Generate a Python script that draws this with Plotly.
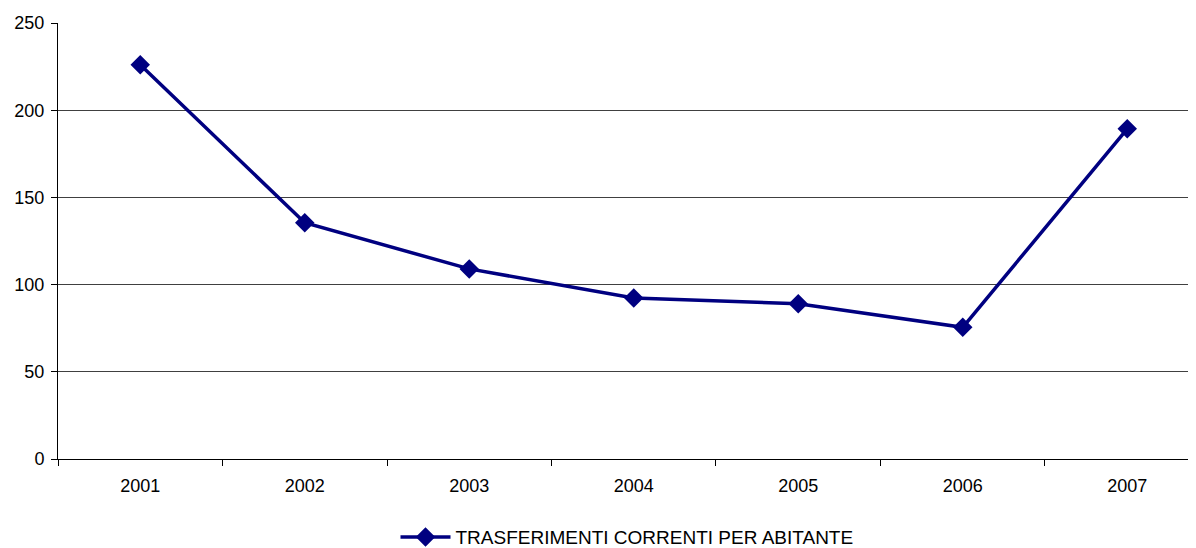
import plotly.graph_objects as go

years = ["2001", "2002", "2003", "2004", "2005", "2006", "2007"]
values = [226, 135.5, 109, 92.3, 89, 75.5, 189.3]
series_name = "TRASFERIMENTI CORRENTI PER ABITANTE"

fig = go.Figure()
fig.add_trace(go.Scatter(
    x=years, y=values, mode="lines+markers", name=series_name,
    line=dict(color="#000080", width=3.5),
    marker=dict(symbol="diamond", size=15, color="#000080"),
))

fig.update_layout(
    width=1188, height=540,
    margin=dict(l=50, r=0, t=15, b=89, autoexpand=False),
    paper_bgcolor="white", plot_bgcolor="white",
    font=dict(family="Liberation Sans, Arial, sans-serif", size=18, color="black"),
    showlegend=True,
    legend=dict(orientation="h", x=0.5, xanchor="center", y=-0.179, yanchor="middle",
                font=dict(size=19), itemwidth=50),
    xaxis=dict(
        type="category", range=[-0.5, 6.418], automargin=False,
        tickson="boundaries", ticks="outside", ticklen=6, tickcolor="black",
        ticklabelstandoff=10,
        showline=True, linecolor="black", linewidth=1,
        showgrid=False, tickfont=dict(size=18),
    ),
    yaxis=dict(
        range=[0, 250], dtick=50, ticks="outside", ticklen=6, tickcolor="black",
        automargin=False, ticklabelstandoff=3,
        showline=True, linecolor="black", linewidth=1,
        showgrid=True, gridcolor="#404040", gridwidth=1,
        zeroline=False, tickfont=dict(size=18),
    ),
)

fig.write_html("out.html")
